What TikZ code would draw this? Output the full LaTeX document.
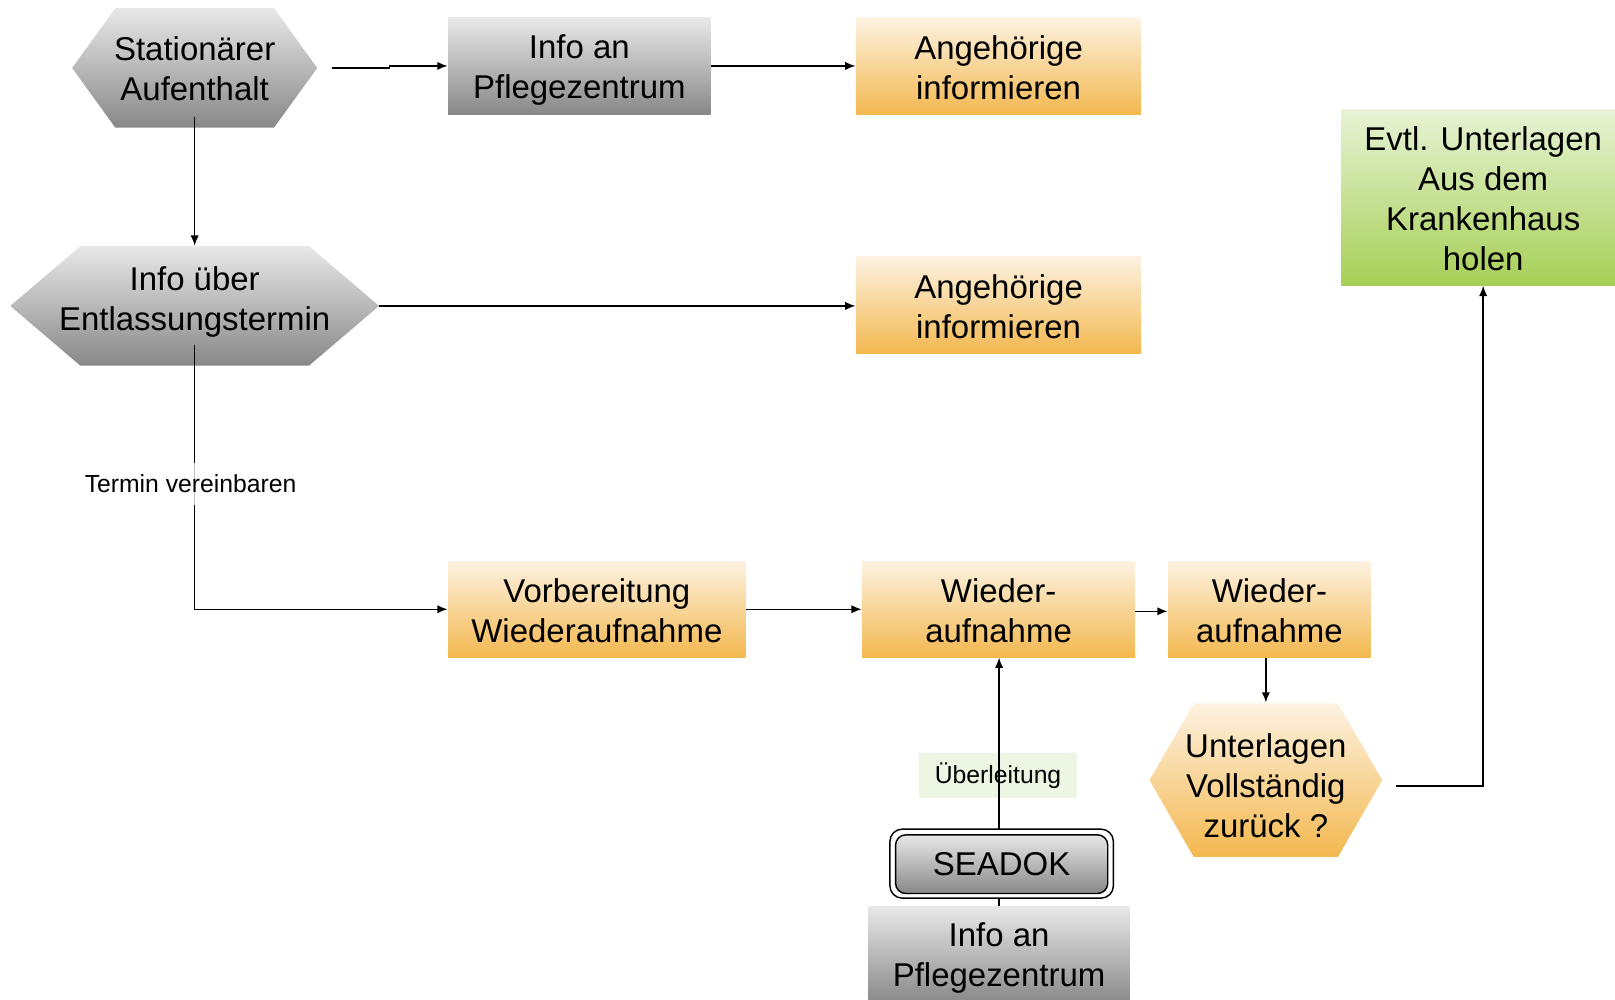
\documentclass[tikz,border=0pt]{standalone}
\usepackage{fontspec}
\setmainfont{Liberation Sans}
\usetikzlibrary{arrows.meta,calc}
\definecolor{gtop}{HTML}{E8E8E8}
\definecolor{gmid}{HTML}{C2C2C2}
\definecolor{gbot}{HTML}{888888}
\definecolor{otop}{HTML}{FDF2E1}
\definecolor{omid}{HTML}{F9DDAA}
\definecolor{obot}{HTML}{F3B84F}
\definecolor{ntop}{HTML}{E7F3D5}
\definecolor{nmid}{HTML}{C9E39E}
\definecolor{nbot}{HTML}{A6CF56}
\definecolor{lbl}{HTML}{EDF6E3}
\begin{document}
\begin{tikzpicture}[x=0.5pt,y=-0.5pt,
  txt/.style={font=\fontsize{16pt}{19.5pt}\selectfont, align=center, inner sep=0pt},
  small/.style={font=\fontsize{12pt}{14pt}\selectfont, align=center, inner sep=0pt},
  grayfill/.style={top color=gtop, middle color=gmid, bottom color=gbot},
  orangefill/.style={top color=otop, middle color=omid, bottom color=obot},
  greenfill/.style={top color=ntop, middle color=nmid, bottom color=nbot},
  graybox/.style={txt, grayfill},
  orangebox/.style={txt, orangefill},
  arr/.style={draw=black, line width=0.7pt, -{Latex[length=5pt,width=4pt]}},
]
\useasboundingbox (0,0) rectangle (1568,970);

% hexagon shapes
\shade[grayfill] (70,66) -- (112,8) -- (266,8) -- (308,66) -- (266,124) -- (112,124) -- cycle;
\shade[grayfill] (10,297) -- (78,239) -- (300,239) -- (368,297) -- (300,355) -- (78,355) -- cycle;
\shade[orangefill] (1116,757.5) -- (1159,683) -- (1299,683) -- (1342,757.5) -- (1299,832) -- (1159,832) -- cycle;

\node[txt, minimum width=119pt, minimum height=58pt] (hex1) at (189,67) {Stationärer\\Aufenthalt};
\node[txt, minimum width=179pt, minimum height=58pt] (hex2) at (189,293) {Info über\\Entlassungstermin};
\node[txt, minimum width=113pt, minimum height=74.5pt] (hex3) at (1229,763) {Unterlagen\\Vollständig\\zurück ?};

% boxes
\node[graybox, minimum width=127.5pt, minimum height=47pt] (infoA) at (562.5,64) {};
\node[txt] (infoAt) at (562.5,68) {Info an\\Pflegezentrum};
\node[orangebox, minimum width=138.5pt, minimum height=47pt] (ang1) at (969.5,64) {};
\node[txt] (ang1t) at (969.5,66) {Angehörige\\informieren};
\node[orangebox, minimum width=138.5pt, minimum height=47pt] (ang2) at (969.5,296) {};
\node[txt] (ang2t) at (969.5,298) {Angehörige\\informieren};
\node[txt, greenfill, minimum width=138pt, minimum height=85.5pt] (green) at (1440,191.5) {};
\node[txt] (greent) at (1440,193) {Evtl. Unterlagen\\Aus dem\\Krankenhaus\\holen};
\node[orangebox, minimum width=144.5pt, minimum height=46.5pt] (vorb) at (579.5,591.5) {};
\node[txt] (vorbt) at (579.5,593) {Vorbereitung\\Wiederaufnahme};
\node[orangebox, minimum width=132.5pt, minimum height=46.5pt] (wied1) at (969.5,591.5) {};
\node[txt] (wied1t) at (969.5,593) {Wieder-\\aufnahme};
\node[orangebox, minimum width=98.5pt, minimum height=46.5pt] (wied2) at (1232.5,591.5) {};
\node[txt] (wied2t) at (1232.5,593) {Wieder-\\aufnahme};
\node[graybox, minimum width=127pt, minimum height=47pt] (info2) at (970,927) {};
\node[txt] (info2t) at (970,930) {Info an\\Pflegezentrum};

% label Ueberleitung
\node[small, fill=lbl, minimum width=77pt, minimum height=22pt] (ueber) at (969,753) {Überleitung};

% connectors
\draw[arr] ($(hex1.east)+(14,-1)$) -- ++(56,0) |- (infoA.west);
\draw[arr] (infoA.east) -- (ang1.west);
\draw[arr] ($(hex1.south)+(0,-12)$) -- ($(hex2.north)+(0,4)$);
\draw[arr] ($(hex2.east)+(0,4)$) -- ($(hex2.east -| ang2.west)+(0,4)$);
\draw[arr] ($(hex2.south)+(0,-16)$) |- (vorb.west);
\draw[arr] (vorb.east) -- (wied1.west);
\draw[arr] ($(wied1.east)+(0,2)$) -- ($(wied1.east -| wied2.west)+(0,2)$);
\draw[arr] (hex3.north |- wied2.south) -- ($(hex3.north)+(0,-6)$);
\draw[arr] ($(hex3.east)+(13,0)$) -| (green.south);
\draw[arr] (info2.north) -- (info2.north |- wied1.south);

% SEADOK (double rounded border)
\node[draw=black, line width=0.7pt, fill=white, rounded corners=6pt, minimum width=108.5pt, minimum height=33.5pt] (seadokO) at (972.5,838.5) {};
\node[txt, draw=black, line width=0.7pt, grayfill, rounded corners=5pt, minimum width=103pt, minimum height=28.5pt] (seadok) at (972.5,839) {SEADOK};

% label Termin vereinbaren
\node[small, fill=white, fill opacity=0.75, text opacity=1, minimum height=20pt] (termin) at (185,470) {Termin vereinbaren};
\end{tikzpicture}
\end{document}
